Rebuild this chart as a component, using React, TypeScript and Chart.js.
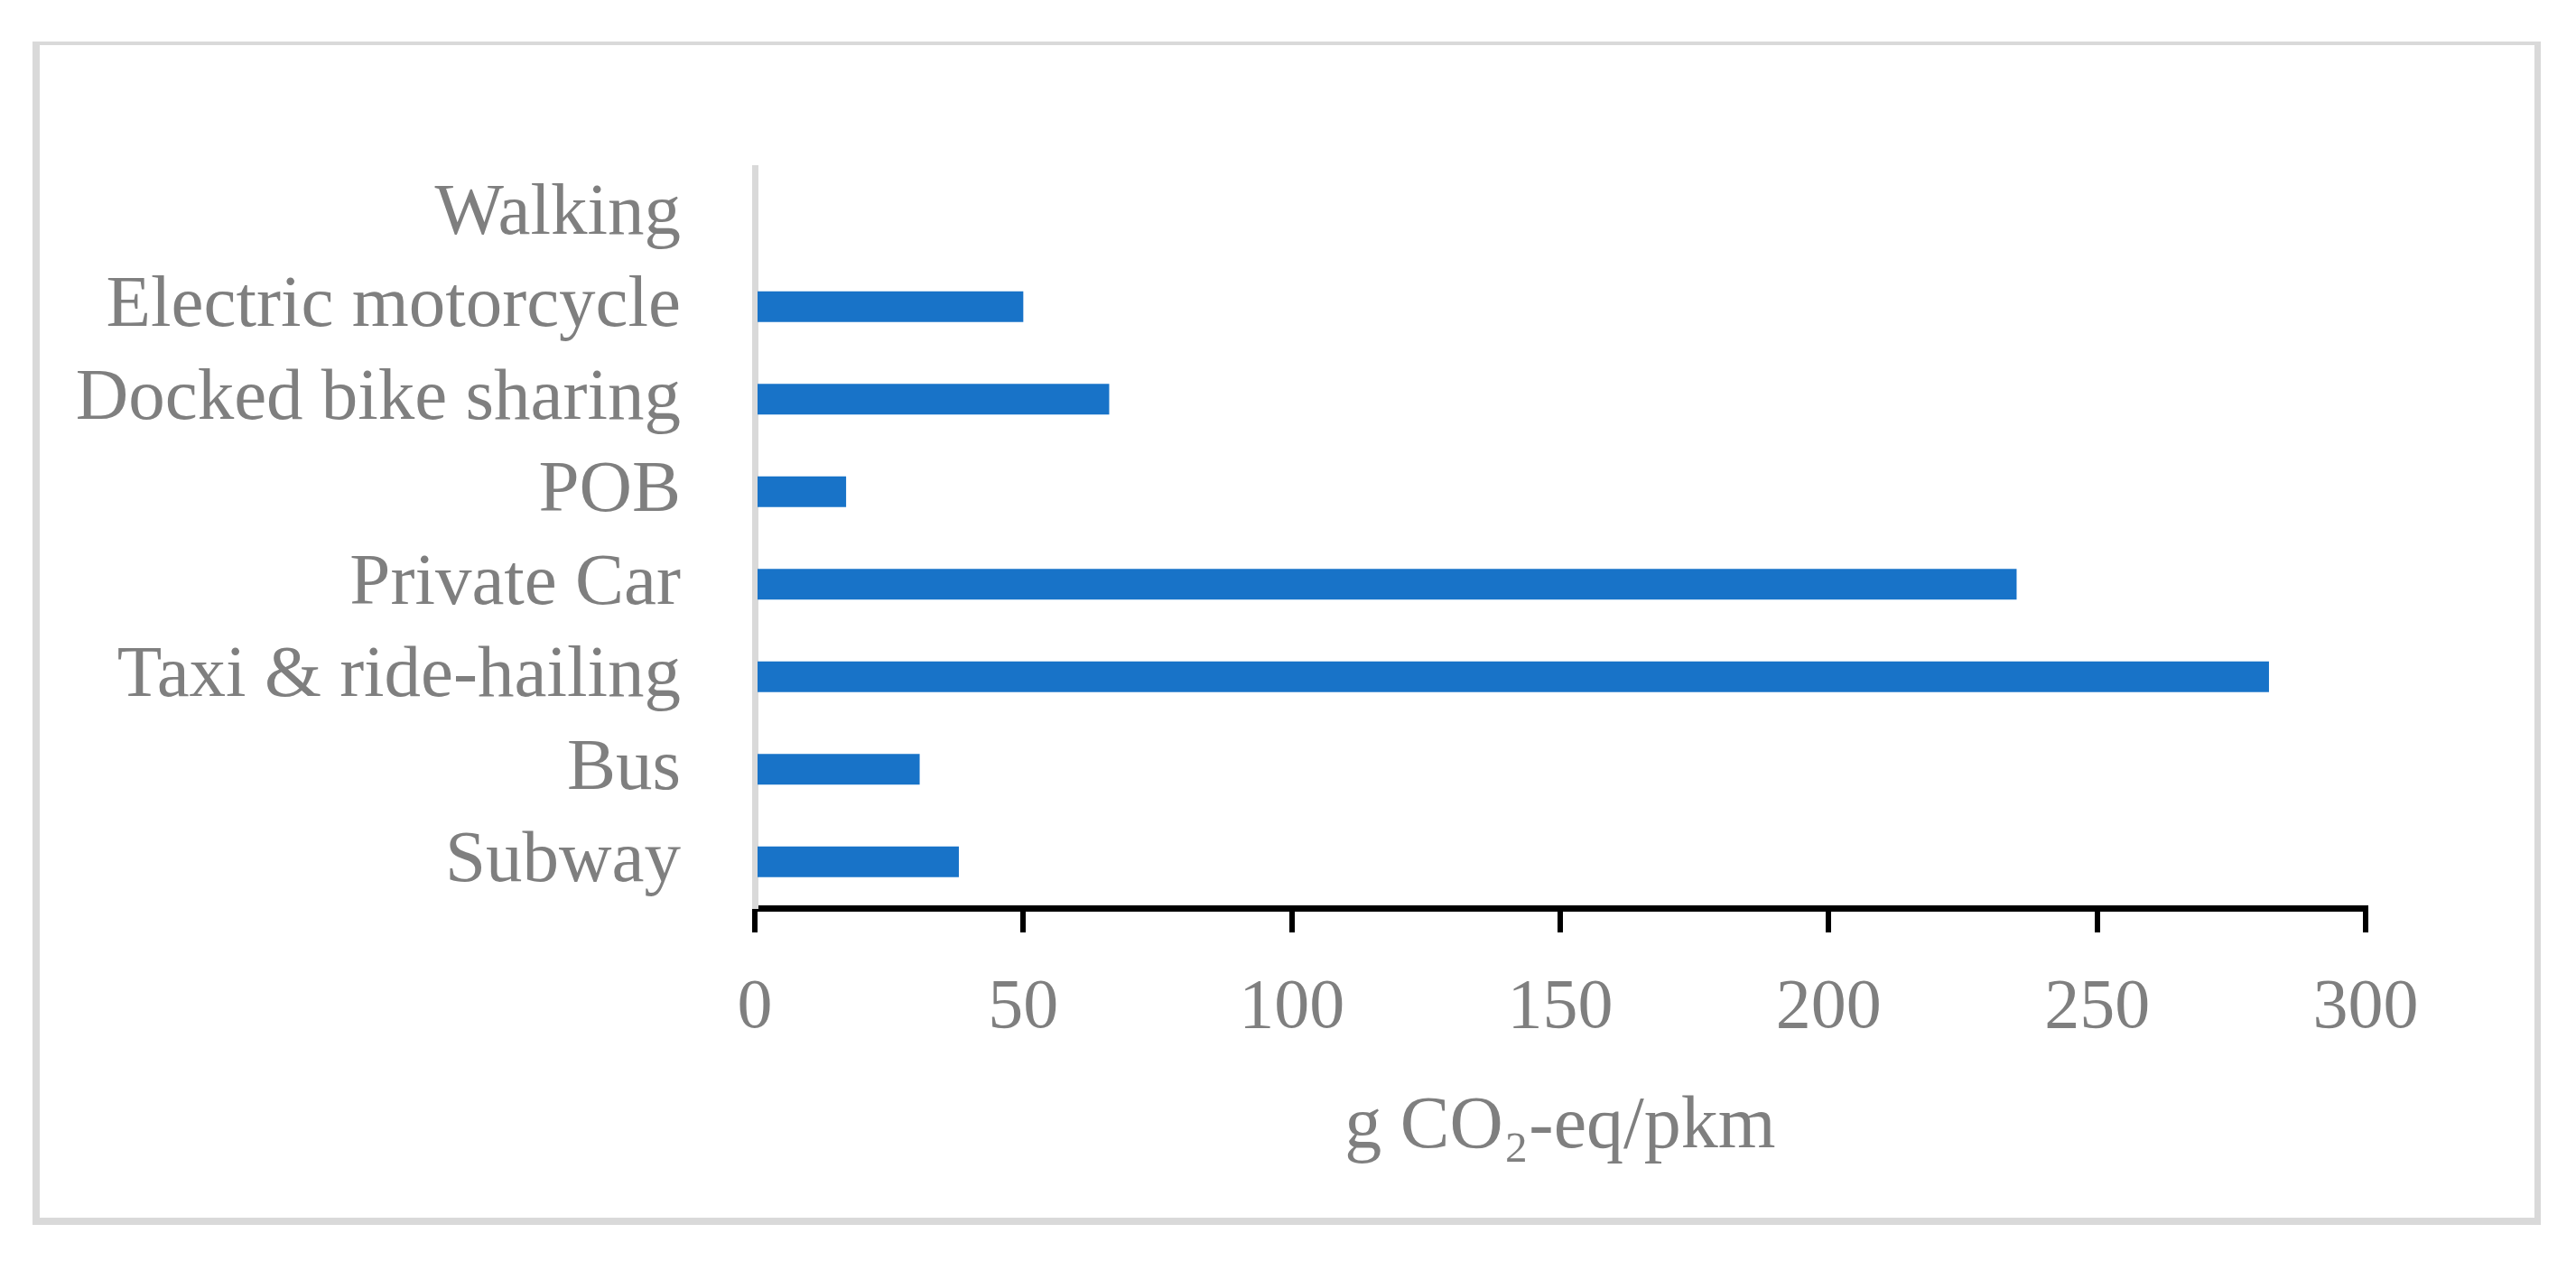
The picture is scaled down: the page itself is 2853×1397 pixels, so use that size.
import React, { useEffect, useRef } from "react";
import { Chart, registerables } from "chart.js";

Chart.register(...registerables);

const categories: string[] = [
  "Walking",
  "Electric motorcycle",
  "Docked bike sharing",
  "POB",
  "Private Car",
  "Taxi & ride-hailing",
  "Bus",
  "Subway",
];

const emissions: number[] = [0, 50, 66, 17, 235, 282, 30.7, 38];

const xTickMin = 0;
const xTickMax = 300;
const xTickStep = 50;

const axisTitle = "g CO\u2082-eq/pkm";

const W = 2853;
const H = 1397;

const frame = {
  id: "frame",
  beforeDraw(chart: any) {
    const ctx = chart.ctx;
    ctx.save();
    ctx.fillStyle = "#ffffff";
    ctx.fillRect(0, 0, W, H);
    ctx.fillStyle = "#d9d9d9";
    ctx.fillRect(36, 46, 2778, 4);
    ctx.fillRect(36, 46, 8, 1311);
    ctx.fillRect(2807, 46, 7, 1311);
    ctx.fillRect(36, 1349, 2778, 8);
    ctx.restore();
  },
};

export default function App() {
  const ref = useRef<HTMLCanvasElement | null>(null);

  useEffect(() => {
    if (!ref.current) return;
    const font = "'Liberation Serif', 'Times New Roman', serif";
    const chart = new Chart(ref.current, {
      type: "bar",
      data: {
        labels: categories,
        datasets: [
          {
            data: emissions,
            backgroundColor: "#1873c8",
            borderWidth: 0,
            categoryPercentage: 1,
            barPercentage: 0.33,
          },
        ],
      },
      options: {
        indexAxis: "y",
        animation: false,
        responsive: false,
        devicePixelRatio: 1,
        layout: { padding: { top: 186, right: 233, left: 0, bottom: 0 } },
        plugins: {
          legend: { display: false },
          tooltip: { enabled: false },
          title: { display: false },
        },
        scales: {
          x: {
            type: "linear",
            min: xTickMin,
            max: xTickMax,
            z: 1,
            ticks: {
              stepSize: xTickStep,
              color: "#7f7f7f",
              font: { family: font, size: 78 },
              padding: 38,
              maxRotation: 0,
            },
            grid: {
              display: true,
              drawOnChartArea: false,
              drawTicks: true,
              tickLength: 27,
              color: "#000000",
              lineWidth: 6,
            },
            border: { display: true, color: "#000000", width: 7 },
            title: {
              display: true,
              text: axisTitle,
              color: "#7f7f7f",
              font: { family: font, size: 82 },
              padding: { top: 0, bottom: 98 },
            },
            afterFit(scale: any) {
              scale.height = 391;
            },
          },
          y: {
            type: "category",
            z: 1,
            ticks: {
              color: "#7f7f7f",
              font: { family: font, size: 81 },
              padding: 82,
            },
            grid: { display: true, drawOnChartArea: false, drawTicks: false },
            border: { display: true, color: "#d9d9d9", width: 7 },
            afterFit(scale: any) {
              scale.width = 836;
            },
          },
        },
      },
      plugins: [frame],
    });
    return () => chart.destroy();
  }, []);

  return (
    <canvas
      ref={ref}
      width={W}
      height={H}
      style={{ position: "fixed", left: 0, top: 0, width: W, height: H }}
    />
  );
}
